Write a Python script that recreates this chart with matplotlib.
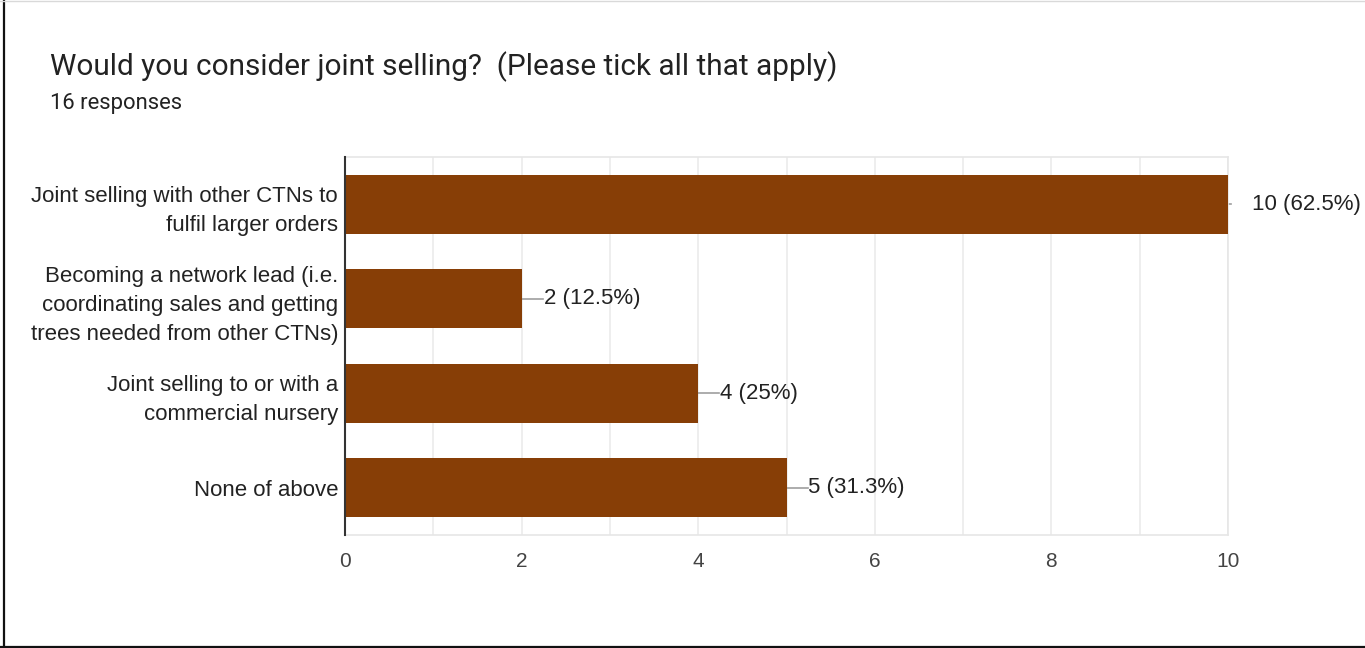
import matplotlib
matplotlib.use("Agg")
import matplotlib.pyplot as plt
from matplotlib.lines import Line2D
from decimal import Decimal, ROUND_HALF_UP

plt.rcParams['font.family'] = ['Liberation Sans', 'DejaVu Sans']

title = "Would you consider joint selling?  (Please tick all that apply)"
n_responses = 16
options = [
    "Joint selling with other CTNs to\nfulfil larger orders",
    "Becoming a network lead (i.e.\ncoordinating sales and getting\ntrees needed from other CTNs)",
    "Joint selling to or with a\ncommercial nursery",
    "None of above",
]
counts = [10, 2, 4, 5]
x_ticks = [0, 2, 4, 6, 8, 10]

BAR = '#873e06'
TXT = '#222222'

def pct_label(c):
    p = Decimal(c * 100) / Decimal(n_responses)
    p = p.quantize(Decimal('0.1'), rounding=ROUND_HALF_UP)
    s = str(p).rstrip('0').rstrip('.')
    return '%d (%s%%)' % (c, s)

fig = plt.figure(figsize=(13.65, 6.48), dpi=100)
ax = fig.add_axes([345 / 1365, 113 / 648, 883 / 1365, 378 / 648])

ypos = list(range(len(options)))
ax.barh(ypos, counts, height=0.625, color=BAR, zorder=3)
ax.set_xlim(0, max(x_ticks))
ax.set_ylim(len(options) - 0.5, -0.5)

# grid every unit, labels every two
ax.set_xticks(x_ticks)
ax.set_xticks(range(0, max(x_ticks) + 1), minor=True)
ax.grid(axis='x', which='both', color='#ebebeb', lw=1.2, zorder=0)
ax.tick_params(axis='x', which='both', length=0, pad=12, labelsize=15, labelcolor='#444444')
ax.set_yticks(ypos)
ax.set_yticklabels(options, fontsize=16, color=TXT, linespacing=1.5)
ax.tick_params(axis='y', length=0, pad=5)

for side in ['top', 'bottom', 'right']:
    ax.spines[side].set_color('#e6e6e6')
    ax.spines[side].set_linewidth(1.2)
ax.spines['left'].set_color('#333333')
ax.spines['left'].set_linewidth(1.5)
ax.spines['left'].set_zorder(4)

# value labels with short leader lines
px = max(x_ticks) / 883
for y, c in zip(ypos, counts):
    if c >= max(x_ticks):
        ax.plot([c, c + 3 * px], [y, y], color='#9e9e9e', lw=1.2, clip_on=False, zorder=2)
        tx = c + 24 * px
    else:
        ax.plot([c, c + 21 * px], [y, y], color='#9e9e9e', lw=1.2, clip_on=False, zorder=2)
        tx = c + 22 * px
    ax.text(tx, y, pct_label(c), va='center', ha='left', fontsize=16, color=TXT)

fig.text(50 / 1365, 1 - 67 / 648, title, fontsize=21.4, color=TXT, va='center', ha='left',
         family='Roboto')
fig.text(50 / 1365, 1 - 104 / 648, '%d responses' % n_responses, fontsize=15.8, color=TXT,
         va='center', ha='left', family='Roboto')

# card border
fig.add_artist(Line2D([3.5 / 1365, 3.5 / 1365], [0, 1], transform=fig.transFigure, color='#111111', lw=1.6))
fig.add_artist(Line2D([0, 1], [1.5 / 648, 1.5 / 648], transform=fig.transFigure, color='#111111', lw=1.6))
fig.add_artist(Line2D([0, 1], [1 - 0.5 / 648, 1 - 0.5 / 648], transform=fig.transFigure, color='#d9d9d9', lw=1))

fig.savefig('out.png', dpi=100)
